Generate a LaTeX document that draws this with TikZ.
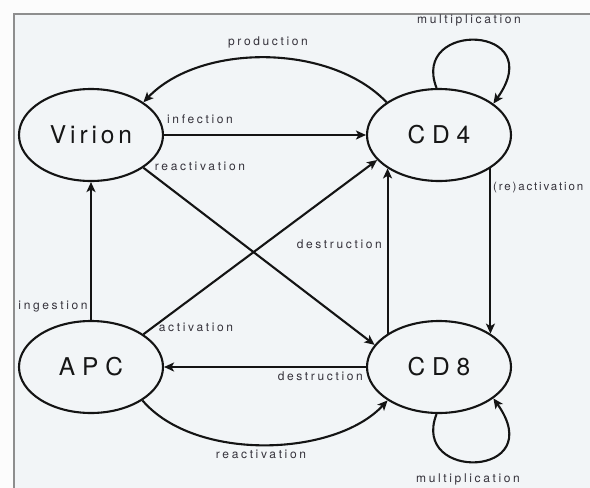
\documentclass[tikz,border=0pt]{standalone}
\usepackage{fontspec}
\setmainfont{TeX Gyre Heros}
\newfontfamily\statefont[LetterSpace=16]{TeX Gyre Heros}
\newfontfamily\widestatefont[LetterSpace=28]{TeX Gyre Heros}
\newfontfamily\edgelabelfont[LetterSpace=22]{TeX Gyre Heros}
\newfontfamily\narrowlabelfont[LetterSpace=16]{TeX Gyre Heros}
\usetikzlibrary{shapes.geometric,arrows.meta}
\definecolor{paper}{HTML}{F2F5F7}
\definecolor{margin}{HTML}{FCFCFC}
\definecolor{framec}{HTML}{8E8E8E}
\definecolor{edgec}{HTML}{141414}
\definecolor{statetext}{HTML}{161616}
\definecolor{labelc}{HTML}{35323B}
\tikzset{
  state/.style={ellipse, draw=edgec, line width=2.1pt, fill=paper,
    minimum width=144pt, minimum height=92pt, inner sep=0pt,
    text=statetext, font={\statefont\fontsize{24.5}{28}\selectfont}},
  widestate/.style={state, font={\widestatefont\fontsize{24.5}{28}\selectfont}},
  lbl/.style={inner sep=0pt, text=labelc,
    font={\edgelabelfont\fontsize{12}{14}\selectfont}},
  narrowlbl/.style={lbl, font={\narrowlabelfont\fontsize{11.5}{14}\selectfont}},
  edge/.style={line width=2.1pt, draw=edgec,
    -{Stealth[length=10pt,width=9pt,inset=2.5pt]}}
}
\begin{document}
\begin{tikzpicture}[x=1pt,y=-1pt]
\useasboundingbox (0,0) rectangle (590,488);
% page and panel
\fill[margin] (0,0) rectangle (590,488);
\fill[paper] (14,14) rectangle (590,488);
\draw[framec, line width=1.6pt] (14,488) -- (14,14) -- (590,14);

% states
\node[state]     (virion) at (91,135)  {Virion};
\node[widestate] (cdfour) at (439,135) {CD4};
\node[widestate] (apc)    at (91,367)  {APC};
\node[widestate] (cdeight) at (439,367) {CD8};

% transitions
\draw[edge] (cdfour.148) .. controls (330,43) and (200,43) .. (virion.32);
\draw[edge] (virion.east) -- (cdfour.west);
\draw[edge] (virion.-32) -- (cdeight.161);
\draw[edge] (apc.north) -- (virion.south);
\draw[edge] (apc.32) -- (cdfour.-158);
\draw[edge] (cdeight.147.5) -- (cdfour.-147.5);
\draw[edge] (cdfour.-33.5) -- (cdeight.33.5);
\draw[edge] (cdeight.west) -- (apc.east);
\draw[edge] (apc.-33) .. controls (195,462) and (335,457) .. (cdeight.-147);
\draw[edge] (cdfour.93) .. controls (410,20) and (550,24) .. (cdfour.30);
\draw[edge] (cdeight.-93) .. controls (410,482) and (550,478) .. (cdeight.-30);

% transition labels
\node[lbl] (lprod)   at (268,42)  {production};
\node[lbl] (lmultup) at (469,20)  {multiplication};
\node[lbl] (linf)    at (200,119) {infection};
\node[lbl] (lreacup) at (200,166) {reactivation};
\node[narrowlbl, anchor=west] (lreact) at (493,188) {(re)activation};
\node[lbl, anchor=east] (ldesup)  at (382,244) {destruction};
\node[lbl] (ling)    at (53,307)  {ingestion};
\node[lbl] (lact)    at (196,327) {activation};
\node[lbl, anchor=east] (ldeslow) at (363,376) {destruction};
\node[lbl] (lreaclow) at (261,454) {reactivation};
\node[lbl] (lmultlow) at (468,479) {multiplication};
\end{tikzpicture}
\end{document}
